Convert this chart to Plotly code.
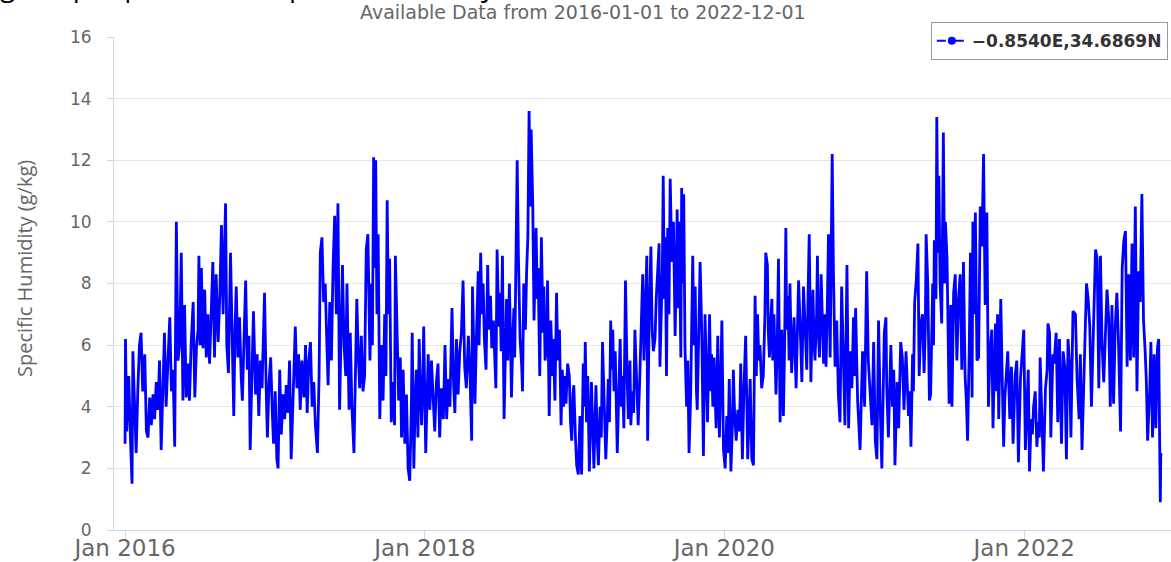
import pandas as pd
import plotly.graph_objects as go

START_DATE = "2016-01-01"
SERIES_NAME = "−0.8540E,34.6869N"
SUBTITLE = "Available Data from 2016-01-01 to 2022-12-01"
Y_TITLE = "Specific Humidity (g/kg)"
TOP_TITLE = "g the per pout at the specific humidity"

days_a = [0, 1, 4, 9, 13, 17, 19, 23, 27, 31, 35, 39, 43, 48, 52, 56, 60, 64, 68, 72, 76, 80, 84, 88, 92, 96,
          100, 104, 109, 113, 117, 121, 125, 129, 133, 137, 141, 145, 149, 153, 157, 161, 166, 170, 174, 178,
          180, 183, 186, 190, 194, 198, 202, 206, 210, 214, 218, 222, 227, 231, 235, 239, 243, 245, 248, 252,
          257, 261, 265, 268, 271, 275, 279, 283, 286, 290, 294, 298, 302, 305, 309, 313, 318, 322, 326, 330,
          334, 338, 340, 344, 347, 351, 355, 359, 362, 366, 370, 373, 377, 381, 385, 389, 393, 397, 401, 405,
          410, 415, 419, 423, 427, 431, 436, 440, 444, 448, 452, 456, 460, 464, 469, 473, 476, 480, 484, 488,
          492, 495, 499, 503, 507, 511, 515, 519, 523, 527, 530, 534, 538, 541, 546, 549, 553, 558, 562, 565,
          569, 572, 576, 580, 584, 588, 592]
vals_a = [2.8, 6.2, 3.2, 5.0, 3.0, 1.5, 5.8, 4.0, 2.5, 4.5, 6.0, 6.4, 4.5, 5.7, 3.2, 3.0, 4.3, 3.4, 4.4, 3.6, 4.8, 3.9, 5.5, 2.6, 5.0, 6.4,
          4.0, 5.3, 6.9, 4.5, 5.2, 2.7, 10.0, 5.5, 6.0, 9.0, 4.2, 7.3, 4.3, 5.4, 4.2, 6.0, 7.4, 4.3, 5.9, 6.5,
          8.9, 6.0, 8.5, 5.9, 7.8, 5.6, 7.0, 5.4, 7.2, 8.7, 5.6, 8.3, 6.1, 7.6, 9.9, 7.0, 9.5, 10.6, 6.0, 5.1,
          9.0, 5.6, 3.7, 6.5, 7.9, 5.6, 6.9, 5.0, 4.2, 6.2, 8.1, 5.2, 6.3, 2.6, 5.5, 7.1, 4.4, 5.7, 3.7, 5.5,
          4.6, 6.6, 7.7, 4.6, 3.0, 4.8, 5.6, 3.8, 2.8, 4.5, 2.3, 2.0, 5.2, 3.1, 4.4, 3.6, 4.7, 3.8, 5.5, 2.3,
          4.3, 6.6, 4.6, 5.7, 3.9, 5.5, 4.3, 6.0, 3.8, 5.5, 6.1, 4.0, 4.8, 3.4, 2.5, 5.0, 9.0, 9.5, 7.4, 8.0,
          6.0, 4.7, 7.4, 5.5, 8.5, 10.2, 7.0, 10.6, 3.9, 6.5, 8.6, 6.0, 5.0, 8.0, 3.9, 6.4, 4.0, 2.5, 6.0, 7.5,
          5.5, 4.6, 6.3, 4.5, 5.0, 9.1, 9.6]

days_b = [597, 601, 603, 606, 610, 611, 614, 617, 621, 625, 629, 633, 636, 639, 642, 645, 649, 653, 657, 659,
          663, 667, 671, 674, 678, 682, 686, 690, 694, 698, 700, 704, 707, 710, 714, 717, 720, 723, 726, 728,
          733, 736, 739, 743, 747, 751, 755, 759, 763, 767, 771, 776, 780, 784, 788, 792, 797, 801, 804, 808,
          812, 816, 820, 824, 828, 832, 837, 841, 845, 847, 850, 853, 857, 861, 863, 867, 870, 873, 876, 880,
          884, 887, 891, 894, 898, 901, 904, 907, 911, 914, 917, 920, 924, 928, 930, 933, 937, 940, 942, 946,
          948, 950, 953, 956, 959, 963, 967, 969, 972, 976, 979, 982, 985, 988, 990, 994, 997, 999, 1002, 1005,
          1007, 1011, 1015, 1019, 1021, 1024, 1028, 1030, 1034, 1038, 1042, 1044, 1048, 1052, 1055, 1059, 1063,
          1066, 1069, 1072, 1075, 1079, 1083, 1086, 1089, 1092, 1094, 1098, 1101, 1105, 1109, 1113, 1117, 1120,
          1122, 1125, 1128, 1132, 1135, 1137, 1143, 1146, 1148, 1151, 1154, 1158, 1161, 1164, 1168, 1172, 1176,
          1178, 1181, 1184, 1186, 1189, 1192, 1195, 1200, 1203, 1207, 1210, 1213, 1216, 1220, 1224, 1227]
vals_b = [5.5, 8.0, 6.0, 12.1, 8.5, 12.0, 7.0, 9.6, 3.6, 6.0, 4.2, 7.0, 5.0, 10.7, 7.0, 8.8, 3.5, 4.8, 3.4, 8.9,
          6.0, 4.2, 5.6, 3.0, 5.2, 2.8, 4.4, 2.0, 1.6, 4.0, 6.4, 2.0, 4.0, 5.2, 3.0, 6.2, 4.5, 3.4, 5.0, 6.6,
          2.5, 4.5, 5.7, 3.9, 5.5, 4.3, 3.2, 4.8, 5.4, 3.0, 4.6, 3.6, 6.0, 3.6, 4.9, 4.0, 7.2, 4.7, 3.8, 6.2,
          4.4, 5.8, 6.4, 8.1, 5.3, 4.6, 6.3, 5.0, 2.9, 7.9, 6.0, 4.1, 6.5, 8.4, 6.0, 9.0, 7.0, 8.0, 6.2, 5.2,
          8.6, 6.5, 7.6, 5.9, 6.8, 5.4, 4.6, 9.1, 6.6, 7.7, 5.8, 8.9, 3.6, 6.2, 7.5, 5.5, 8.0, 6.0, 4.3, 6.5,
          7.2, 5.6, 9.3, 12.0, 8.9, 6.2, 5.3, 4.5, 8.0, 6.5, 8.4, 9.5, 13.6, 10.5, 13.0, 10.5, 6.8, 8.3, 9.8, 7.5,
          8.5, 5.0, 9.5, 6.4, 7.9, 5.5, 6.0, 8.1, 3.7, 6.8, 5.0, 6.2, 4.2, 7.7, 5.5, 6.5, 3.4,
          5.2, 4.0, 5.0, 4.1, 5.4, 5.0, 3.5, 2.9, 4.4, 4.7, 3.0, 2.1, 1.8, 3.7, 1.8, 5.4, 4.0,
          6.1, 3.5, 5.0, 1.9, 3.5, 4.8, 2.0, 3.6, 4.7, 3.0, 2.1, 4.0, 3.0, 6.1, 3.7, 2.3, 3.8,
          4.9, 3.5, 6.8, 5.2, 6.5, 4.5, 5.8, 2.5, 4.5, 6.2, 4.0, 5.0, 3.3, 8.1, 5.0, 3.6]

days_c = [1231, 1233, 1237, 1240, 1243, 1247, 1251, 1255, 1259, 1262, 1265, 1268, 1272, 1274, 1278, 1282, 1285,
          1288, 1292, 1295, 1298, 1302, 1304, 1307, 1310, 1312, 1315, 1317, 1320, 1323, 1326, 1329, 1333, 1337,
          1341, 1344, 1346, 1349, 1351, 1355, 1357, 1359, 1362, 1365, 1369, 1372, 1375, 1379, 1384, 1387, 1390,
          1393, 1395, 1398, 1402, 1406, 1410, 1414, 1417, 1420, 1425, 1428, 1430, 1433, 1436, 1441, 1445, 1449,
          1452, 1455, 1459, 1463, 1467, 1470, 1473, 1477, 1481, 1483, 1486, 1490, 1494, 1498, 1501, 1505, 1509,
          1513, 1516, 1518, 1521, 1524, 1528, 1532, 1536, 1539, 1542, 1545, 1548, 1552, 1556, 1560, 1562, 1566,
          1568, 1571, 1574, 1577, 1579, 1582, 1587, 1590, 1593, 1597, 1601, 1605, 1608, 1611, 1613, 1616, 1619,
          1621, 1625, 1628, 1631, 1636, 1639, 1642, 1646, 1650, 1654, 1658, 1662, 1665, 1668, 1672, 1674, 1677,
          1680, 1682, 1686, 1688, 1690, 1693, 1697, 1700, 1703, 1706, 1709, 1712, 1715, 1719, 1721, 1724, 1727,
          1731, 1735, 1739, 1743, 1747, 1751, 1755, 1760, 1764, 1768, 1772, 1776, 1779, 1781, 1786, 1792, 1795,
          1798, 1803, 1806, 1808, 1812, 1816, 1821, 1825, 1829, 1833, 1837, 1841, 1845, 1851, 1855, 1857, 1861]
vals_c = [5.5, 3.4, 4.5, 3.8, 6.5, 4.6, 3.4, 5.0, 6.5, 8.3, 5.5, 6.8, 8.9, 2.9, 7.2, 9.2, 6.5,
          5.8, 6.2, 7.5, 8.2, 9.3, 5.3, 7.0, 8.5, 11.5, 7.5, 9.5, 5.0, 9.8, 7.0, 11.4, 8.7, 10.0,
          6.3, 8.5, 10.4, 7.2, 10.0, 5.6, 11.1, 8.0, 10.9, 6.0, 4.0, 5.5, 2.5, 4.4, 8.9, 6.0, 7.9,
          4.5, 3.9, 6.0, 8.7, 6.4, 2.4, 7.0, 5.0, 3.5, 7.0, 4.5, 5.7, 4.0, 5.6, 3.3, 6.3, 3.0,
          4.7, 6.8, 2.6, 2.0, 3.7, 2.5, 4.9, 1.9, 3.5, 5.2, 3.8, 2.9, 3.9, 3.2, 5.4, 2.3, 4.7,
          6.3, 4.0, 2.3, 3.5, 4.9, 2.3, 2.1, 7.6, 5.0, 7.0, 5.5, 6.0, 4.6, 5.0, 7.0, 9.0, 8.6,
          6.5, 5.6, 6.8, 7.5, 5.5, 7.0, 4.4, 6.0, 8.8, 3.5, 6.5, 3.7, 6.0, 9.8, 6.5, 7.6, 5.5,
          8.0, 5.1, 6.0, 6.9, 4.6, 6.0, 8.1, 6.6, 4.8, 7.9, 6.4, 5.2, 7.5, 9.6, 4.8, 6.5, 7.8,
          6.0, 5.5, 7.0, 8.9, 6.5, 5.6, 8.3, 6.5, 5.4, 7.0, 5.3, 7.2, 9.6, 5.6, 9.0, 12.2, 8.4,
          5.3, 6.8, 4.4, 3.5, 7.9, 5.7, 3.4, 8.6, 3.3, 5.8, 4.6, 6.9, 5.0, 7.2, 4.2, 2.6, 4.5,
          5.8, 4.0, 6.0, 8.4, 5.5, 4.4, 3.4, 6.1, 2.9, 2.3, 6.8, 4.0, 2.0, 6.4, 6.9, 4.6, 3.0]

days_d = [1864, 1867, 1871, 1874, 1877, 1882, 1886, 1888, 1891, 1895, 1899, 1904, 1908, 1910, 1913, 1916, 1920,
          1922, 1925, 1929, 1933, 1936, 1940, 1944, 1948, 1951, 1953, 1957, 1961, 1964, 1969, 1971, 1973, 1977,
          1979, 1982, 1984, 1987, 1991, 1995, 1998, 2000, 2004, 2007, 2009, 2013, 2016, 2020, 2024, 2028, 2032,
          2036, 2040, 2044, 2048, 2051, 2054, 2058, 2061, 2065, 2067, 2070, 2073, 2077, 2081, 2085, 2089, 2093,
          2097, 2101, 2105, 2109, 2113, 2116, 2119, 2122, 2125, 2127, 2130, 2133, 2135, 2139, 2142, 2145, 2148,
          2152, 2157, 2161, 2165, 2168, 2170, 2174, 2178, 2183, 2187, 2191, 2195, 2199, 2202, 2205, 2209, 2212,
          2215, 2219, 2223, 2226, 2229, 2231, 2235, 2239, 2244, 2248, 2250, 2254, 2257, 2262, 2265, 2270, 2274,
          2278, 2283, 2287, 2291, 2295, 2299, 2303, 2306, 2311, 2317, 2321, 2326, 2329, 2333, 2339, 2344, 2348,
          2352, 2356, 2360, 2366, 2370, 2374, 2378, 2382, 2386, 2390, 2394, 2398, 2402, 2406, 2410, 2414, 2418,
          2422, 2427, 2431, 2435, 2439, 2443, 2447, 2451, 2455, 2459, 2463, 2467, 2471, 2475, 2479, 2483, 2487,
          2490, 2493, 2498, 2501, 2505, 2509, 2513, 2517, 2520, 2522, 2524, 2525, 2526]
vals_d = [4.5, 6.0, 4.0, 5.2, 2.1, 4.8, 3.3, 4.6, 6.1, 5.6, 3.9, 5.8, 4.4, 3.7, 4.5, 2.7, 5.7,
          4.5, 7.4, 8.1, 9.3, 5.0, 6.7, 7.0, 5.1, 6.5, 9.6, 8.0, 4.2, 4.4, 8.0, 6.0, 9.4, 7.5,
          13.4, 9.0, 11.5, 8.0, 6.7, 12.9, 8.0, 10.0, 8.8, 6.5, 4.1, 7.3, 4.0, 7.7, 8.3, 5.5, 7.5,
          8.3, 5.2, 8.7, 5.0, 4.2, 2.9, 5.8, 9.0, 4.3, 10.0, 7.0, 10.3, 5.5, 5.6, 10.5, 9.2, 12.2,
          7.3, 10.3, 4.0, 5.8, 6.5, 3.3, 5.0, 6.7, 4.5, 7.0, 3.6, 5.5, 7.5, 4.6, 2.7, 4.3, 5.0,
          5.8, 3.6, 5.3, 2.8, 4.2, 5.0, 5.5, 2.2, 4.9, 5.9, 6.5, 2.6, 4.3, 5.2, 1.9, 3.6, 3.1,
          4.0, 4.5, 2.7, 3.5, 3.0, 5.6, 3.7, 1.9, 4.6, 5.2, 6.7, 6.4, 3.0, 5.7, 5.4, 6.4, 3.5,
          6.2, 2.8, 5.8, 5.3, 2.3, 6.2, 5.3, 3.0, 7.1, 7.0, 4.9, 3.6, 5.7, 2.6, 5.7, 8.0, 7.5,
          6.6, 4.0, 6.1, 9.1, 8.8, 4.6, 8.9, 6.0, 4.8, 6.5, 7.8, 6.9, 4.0, 7.3, 4.1, 6.6, 7.7,
          6.1, 3.2, 8.5, 9.4, 9.7, 5.3, 8.3, 5.5, 9.3, 5.6, 10.5, 4.5, 8.4, 7.4, 10.9, 6.8, 5.8,
          4.8, 2.9, 4.5, 6.1, 3.0, 5.7, 3.3, 5.9, 6.2, 3.3, 0.9, 2.4, 2.5]

Y_TICKS = [0, 2, 4, 6, 8, 10, 12, 14, 16]

# ---- assemble ----
segments = [(days_a, vals_a), (days_b, vals_b), (days_c, vals_c), (days_d, vals_d)]
all_days, all_vals = [], []
for d, v in segments:
    assert len(d) == len(v), (len(d), len(v))
    all_days += d
    all_vals += v
dates = pd.Timestamp(START_DATE) + pd.to_timedelta(all_days, unit="D")

GRAY = "#666666"
AXIS = "#ccd6eb"
BLUE = "#0000ff"

fig = go.Figure()
fig.add_trace(go.Scatter(x=dates, y=all_vals, mode="lines", line=dict(color=BLUE, width=2.8),
                         showlegend=False, hoverinfo="x+y"))
# legend entry (line with marker, as in the original legend)
fig.add_trace(go.Scatter(x=[None], y=[None], mode="lines+markers", name=SERIES_NAME,
                         line=dict(color=BLUE, width=2, dash="dash"), marker=dict(color=BLUE, size=8)))

fig.update_layout(
    width=1171, height=562,
    margin=dict(l=114, r=0, t=37, b=32, pad=0),
    plot_bgcolor="white", paper_bgcolor="white",
    font=dict(family="DejaVu Sans", color=GRAY),
    showlegend=True,
    legend=dict(x=0.997, xanchor="right", y=1.03, yanchor="top",
                bgcolor="white", bordercolor="#999999", borderwidth=1,
                font=dict(family="DejaVu Sans", size=17, color="#333333", weight="bold"),
                itemwidth=30, tracegroupgap=0),
)
fig.update_xaxes(
    type="date", range=["2015-12-05", "2022-12-25"],
    tick0="2016-01-01", dtick="M24", tickformat="%b %Y",
    showgrid=False, showline=True, linecolor=AXIS, linewidth=1,
    ticks="outside", ticklen=8, tickcolor=AXIS, tickwidth=1,
    ticklabelstandoff=-11,
    tickfont=dict(family="DejaVu Sans", size=23, color=GRAY),
    zeroline=False, automargin=False,
)
fig.update_yaxes(
    range=[0, 16], tickvals=Y_TICKS,
    showgrid=True, gridcolor="#e6e6e6", gridwidth=1,
    showline=True, linecolor=AXIS, linewidth=1,
    ticks="outside", ticklen=6, tickcolor=AXIS,
    ticklabelstandoff=12,
    tickfont=dict(family="DejaVu Sans", size=17, color=GRAY),
    zeroline=False, automargin=False,
)

# y-axis title
fig.add_annotation(text=Y_TITLE, xref="paper", yref="paper",
                   x=(24 - 114) / 1057, y=(530 - 269) / 493, xanchor="center", yanchor="middle",
                   textangle=-90, showarrow=False,
                   font=dict(family="Open Sans", size=20, color=GRAY))
# subtitle
fig.add_annotation(text=SUBTITLE, xref="paper", yref="paper",
                   x=(583 - 114) / 1057, y=1 + (37 - 12) / 493, xanchor="center", yanchor="middle",
                   showarrow=False, font=dict(family="DejaVu Sans", size=19, color=GRAY))
# partially visible caption text at the very top
fig.add_annotation(text=TOP_TITLE, xref="paper", yref="paper",
                   x=(-2 - 114) / 1057, y=1 + (37 - 6) / 493, xanchor="left", yanchor="bottom",
                   showarrow=False, font=dict(family="Open Sans", size=28, color="#000000"))

fig.write_html("out.html", config={"displayModeBar": False},
               post_script="document.body.style.margin='0';document.body.style.overflow='hidden';")
